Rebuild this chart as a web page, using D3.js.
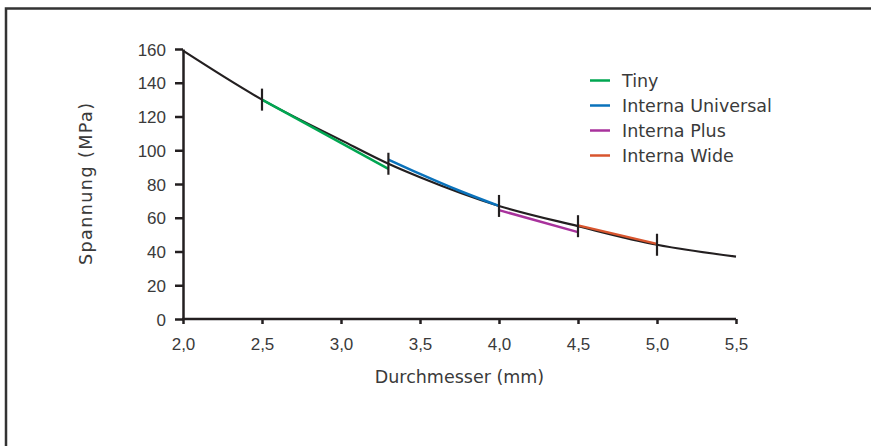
<!DOCTYPE html>
<html>
<head>
<meta charset="utf-8">
<script src="https://cdn.jsdelivr.net/npm/d3@7"></script>
<style>
  html, body { margin: 0; padding: 0; background: #fff; }
  svg { display: block; }
</style>
</head>
<body>
<svg id="chart" width="871" height="446"></svg>
<script>
// Stress vs. implant diameter: fitted curve plus per-product segments
const fitDiameter = [2.0, 2.5, 3.0, 3.3, 3.5, 4.0, 4.5, 5.0, 5.5];
const fitStress   = [159, 130, 106, 92, 84, 67, 55, 44, 37];

const tinyDiameter = [2.5, 3.3];
const tinyStress   = [130, 89];
const universalDiameter = [3.3, 3.5, 3.75, 4.0];
const universalStress   = [94.5, 86, 76, 67];
const plusDiameter = [4.0, 4.5];
const plusStress   = [64.5, 51.5];
const wideDiameter = [4.5, 5.0];
const wideStress   = [55.5, 44.5];

const markerDiameter = [2.5, 3.3, 4.0, 4.5, 5.0];
const markerStress   = [130, 92, 67, 55, 44];

const seriesNames = ["Tiny", "Interna Universal", "Interna Plus", "Interna Wide"];
const seriesColors = ["#00a651", "#0a72bb", "#a8329c", "#d8552e"];

const xTicks = [2.0, 2.5, 3.0, 3.5, 4.0, 4.5, 5.0, 5.5];
const yTicks = [0, 20, 40, 60, 80, 100, 120, 140, 160];

const xLabel = "Durchmesser (mm)";
const yLabel = "Spannung (MPa)";

const ink = "#231f20";
const textInk = "#3a3a3a";
const textFont = "'DejaVu Sans', sans-serif";
const tickFont = "'Liberation Sans', Arial, sans-serif";

const svg = d3.select("#chart");

// frame (top and left edges)
svg.append("path")
  .attr("d", "M6,446 V8.5 H871")
  .attr("fill", "none")
  .attr("stroke", "#333")
  .attr("stroke-width", 2.5);

const x = d3.scaleLinear().domain([2.0, 5.5]).range([183, 736]);
const y = d3.scaleLinear().domain([0, 160]).range([319, 49]);

// axes
const xAxis = svg.append("g")
  .attr("transform", `translate(0,${y(0)})`)
  .call(d3.axisBottom(x).tickValues(xTicks).tickSize(5).tickSizeOuter(0)
    .tickFormat(d => d3.format(".1f")(d).replace(".", ",")));
const yAxis = svg.append("g")
  .attr("transform", `translate(${x(2.0)},0)`)
  .call(d3.axisLeft(y).tickValues(yTicks).tickSize(8).tickSizeOuter(0));

[xAxis, yAxis].forEach(g => {
  g.select(".domain").attr("stroke", ink).attr("stroke-width", 2.5);
  g.selectAll(".tick line").attr("stroke", ink).attr("stroke-width", 2.5);
  g.selectAll(".tick text")
    .attr("fill", textInk)
    .style("font-family", tickFont)
    .style("font-size", "17px");
});
xAxis.selectAll(".tick text").attr("dy", null).attr("y", 31);
yAxis.selectAll(".tick text").attr("x", -17).attr("dy", "0.36em");
// extend x domain line under the y axis
xAxis.select(".domain").attr("d", `M${x(2.0) - 1},0H${x(5.5)}`);

// axis titles
svg.append("text")
  .attr("x", (x(2.0) + x(5.5)) / 2)
  .attr("y", 383)
  .attr("text-anchor", "middle")
  .attr("fill", textInk)
  .style("font-family", textFont)
  .style("font-size", "17.5px")
  .text(xLabel);

svg.append("text")
  .attr("transform", `translate(92,${(y(0) + y(160)) / 2}) rotate(-90)`)
  .attr("text-anchor", "middle")
  .attr("textLength", 162)
  .attr("lengthAdjust", "spacing")
  .attr("fill", textInk)
  .style("font-family", textFont)
  .style("font-size", "17.5px")
  .text(yLabel);

// fitted curve
const pts = (xs, ys) => xs.map((d, i) => [d, ys[i]]);
const smooth = d3.line().x(d => x(d[0])).y(d => y(d[1])).curve(d3.curveMonotoneX);
const straight = d3.line().x(d => x(d[0])).y(d => y(d[1]));

svg.append("path")
  .attr("d", smooth(pts(fitDiameter, fitStress)))
  .attr("fill", "none")
  .attr("stroke", ink)
  .attr("stroke-width", 2.2);

// product segments
const segments = [
  { data: pts(tinyDiameter, tinyStress), gen: straight },
  { data: pts(universalDiameter, universalStress), gen: smooth },
  { data: pts(plusDiameter, plusStress), gen: straight },
  { data: pts(wideDiameter, wideStress), gen: straight }
];
segments.forEach((s, i) => {
  svg.append("path")
    .attr("d", s.gen(s.data))
    .attr("fill", "none")
    .attr("stroke", seriesColors[i])
    .attr("stroke-width", 2.5);
});

// boundary markers on the fitted curve
svg.append("g").selectAll("line")
  .data(pts(markerDiameter, markerStress))
  .join("line")
  .attr("x1", d => x(d[0])).attr("x2", d => x(d[0]))
  .attr("y1", d => y(d[1]) - 11).attr("y2", d => y(d[1]) + 11)
  .attr("stroke", ink)
  .attr("stroke-width", 2.2);

// legend
const legend = svg.append("g").attr("transform", "translate(590,80.5)");
seriesNames.forEach((name, i) => {
  const row = legend.append("g").attr("transform", `translate(0,${i * 25})`);
  row.append("line")
    .attr("x1", 0).attr("x2", 20)
    .attr("stroke", seriesColors[i])
    .attr("stroke-width", 2.5);
  row.append("text")
    .attr("x", 32)
    .attr("dy", "0.36em")
    .attr("fill", textInk)
    .style("font-family", textFont)
    .style("font-size", "17.5px")
    .text(name);
});
</script>
</body>
</html>
